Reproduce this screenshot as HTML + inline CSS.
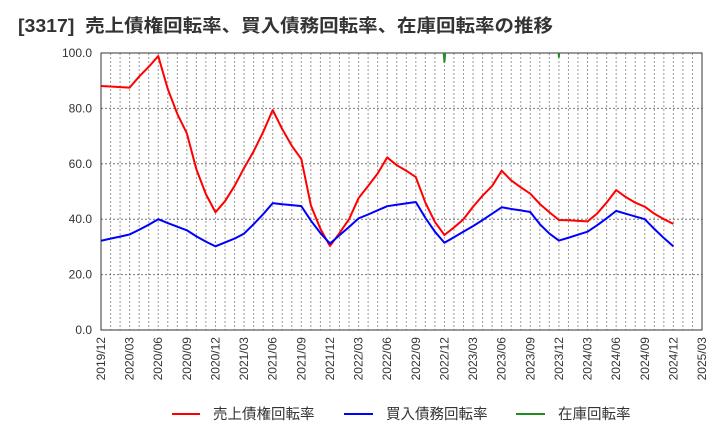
<!DOCTYPE html>
<html><head><meta charset="utf-8">
<style>
body{margin:0;background:#fff;}
svg{display:block;font-family:"Liberation Sans","Noto Sans CJK JP",sans-serif;}
</style></head>
<body>
<svg id="chart" width="720" height="440">
<text x="18" y="32" font-size="18" font-weight="bold" fill="#333" textLength="535" lengthAdjust="spacingAndGlyphs" xml:space="preserve">[3317]  売上債権回転率、買入債務回転率、在庫回転率の推移</text>
<defs><clipPath id="pc"><rect x="101" y="53" width="601" height="277"/></clipPath></defs>
<g id="grid"></g>
<g id="axes"></g>
<g id="series" clip-path="url(#pc)"></g>
<g id="legend">
<line x1="172" y1="414" x2="200" y2="414" stroke="#f00" stroke-width="2"/>
<text x="213" y="419" font-size="14.5" fill="#333">売上債権回転率</text>
<line x1="344" y1="414" x2="373" y2="414" stroke="#00f" stroke-width="2"/>
<text x="386" y="419" font-size="14.5" fill="#333">買入債務回転率</text>
<line x1="516" y1="414" x2="545" y2="414" stroke="#228b22" stroke-width="2"/>
<text x="558" y="419" font-size="14.5" fill="#333">在庫回転率</text>
</g>
</svg>
<script>
const xLabels=["2019/12","2020/03","2020/06","2020/09","2020/12","2021/03","2021/06","2021/09","2021/12","2022/03","2022/06","2022/09","2022/12","2023/03","2023/06","2023/09","2023/12","2024/03","2024/06","2024/09","2024/12","2025/03"];
const yTicks=[0,20,40,60,80,100];
const receivables=[88.1,87.9,87.7,87.5,91.5,95,98.9,87,78,71,58,49,42.5,46.5,52,58.5,64.5,71.5,79.4,72.5,66.5,61.7,45,36.5,30.3,35,40,47.6,52,56.5,62.3,59.5,57.5,55.2,46,39,34.3,37,40,44.5,48.5,52,57.5,54,51.5,49.2,45.5,42.5,39.7,39.6,39.4,39.2,42,46,50.5,48,46,44.5,42,40,38.3];
const payables=[32.2,33,33.7,34.5,36.2,38,40,38.6,37.3,36,33.8,31.9,30.2,31.6,33,34.8,38.2,41.8,45.8,45.4,45.1,44.7,39.5,35,31.2,34.2,37.2,40.3,41.7,43.2,44.7,45.2,45.7,46.2,40.5,35.5,31.5,33.5,35.5,37.5,39.7,42,44.3,43.7,43.2,42.6,38.2,34.8,32.3,33.3,34.4,35.5,37.8,40.3,43,42,41,40,36.5,33.2,30.2];
const inventory=[];
for(let i=0;i<receivables.length;i++)inventory.push(null);
inventory[35]=140;inventory[36]=96.8;inventory[37]=140;
inventory[47]=160;inventory[48]=98.6;inventory[49]=160;

const NS="http://www.w3.org/2000/svg";
const X0=101,X1=702,Y0=330,Y1=53,NM=63;
const xs=i=>X0+(X1-X0)*i/NM;
const ys=v=>Y0-(Y0-Y1)*v/100;
function mk(tag,attrs,parent){const e=document.createElementNS(NS,tag);for(const k in attrs)e.setAttribute(k,attrs[k]);parent.appendChild(e);return e;}
const grid=document.getElementById('grid'),axes=document.getElementById('axes'),ser=document.getElementById('series');
for(let m=1;m<NM;m++){
 const l=mk('line',{x1:xs(m),x2:xs(m),y1:Y1,y2:Y0,stroke:'#999','stroke-dasharray':'2,2','stroke-width':1},grid);
 
 
}
yTicks.forEach(v=>{
 if(v>0&&v<100){const l=mk('line',{x1:X0,x2:X1,y1:ys(v),y2:ys(v),stroke:'#777','stroke-dasharray':'2,2','stroke-width':1},grid);
 
 }
 const t=mk('text',{x:92,y:ys(v)+4,'text-anchor':'end','font-size':12,fill:'#333'},axes);
 t.textContent=v.toFixed(1);
 
 
});
const fr=mk('rect',{x:X0,y:Y1,width:X1-X0,height:Y0-Y1,fill:'none',stroke:'#333','stroke-width':1},axes);


xLabels.forEach((s,i)=>{
 const x=xs(i*3);
 const t=mk('text',{x:0,y:0,transform:`translate(${x+4},337) rotate(-90)`,'text-anchor':'end','font-size':12,fill:'#333'},axes);
 t.textContent=s;
 
 
});
function drawLine(arr,color,name){
 let d='',pen=false;
 arr.forEach((v,i)=>{if(v==null){pen=false;return;}d+=(pen?'L':'M')+xs(i).toFixed(2)+','+ys(v).toFixed(2);pen=true;});
 const p=mk('path',{d:d,fill:'none',stroke:color,'stroke-width':2,'stroke-linejoin':'round'},ser);
 
 
}
drawLine(receivables,'#f00','receivables-turnover-line');
drawLine(payables,'#00f','payables-turnover-line');
drawLine(inventory,'#228b22','inventory-turnover-line');
</script>
</body></html>
